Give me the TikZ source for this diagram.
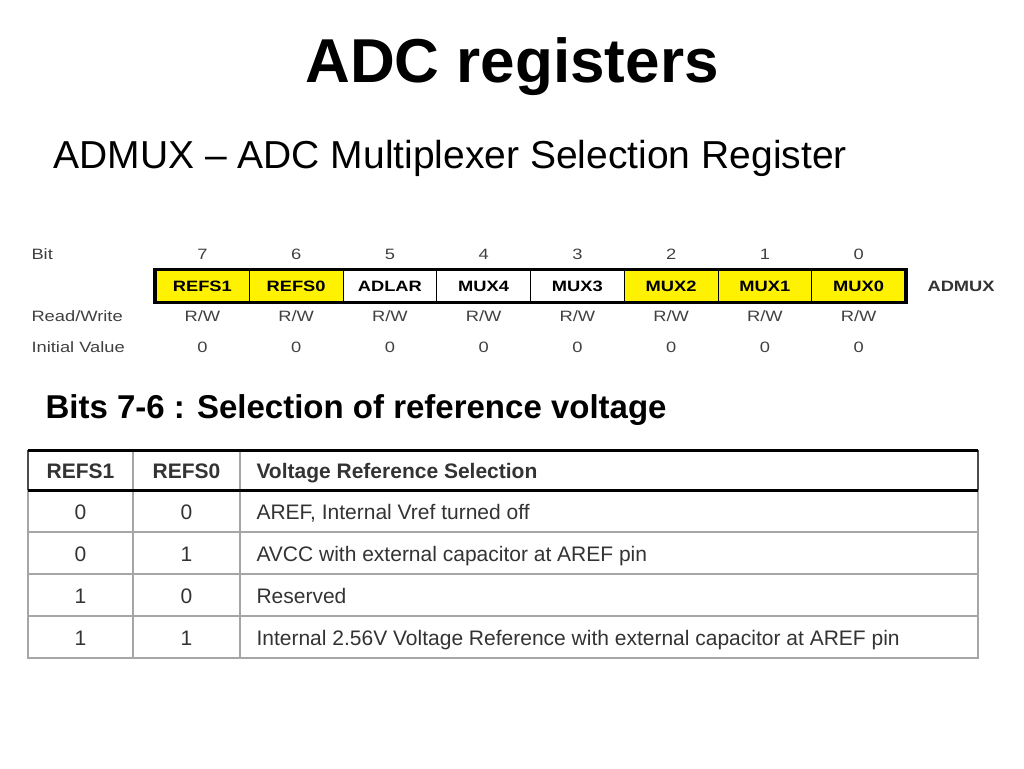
\documentclass[tikz,border=0pt]{standalone}
\usepackage{fontspec}
\usepackage{graphicx}
\setmainfont{Liberation Sans}
\newcommand{\widetxt}[1]{\scalebox{1.22}[1]{#1}}
\begin{document}
\begin{tikzpicture}[x=1pt,y=-1pt,
  small/.style={font=\fontsize{15}{15}\selectfont,text=black!75},
  cell/.style={minimum width=93.75pt,minimum height=32pt,inner sep=0pt,font=\fontsize{15}{15}\selectfont\bfseries,anchor=west},
  tt/.style={font=\fontsize{21}{21}\selectfont,text=black!80,anchor=base},
  grid/.style={draw=black!35,line width=1.2pt}]
\useasboundingbox (0,0) rectangle (1024,768);
\node (title) at (512,67) {\fontsize{62}{62}\selectfont\bfseries ADC registers};
\node[anchor=west] (sub) at (50,158) {\fontsize{39}{39}\selectfont ADMUX -- ADC Multiplexer Selection Register};
% register
\node[small,anchor=west] (bitl) at (28,254) {\widetxt{Bit}};
\node[small,anchor=west] (rwl) at (28,316) {\widetxt{Read/Write}};
\node[small,anchor=west] (ivl) at (28,347) {\widetxt{Initial Value}};
\foreach \i/\n/\c in {0/REFS1/yellow,1/REFS0/yellow,2/ADLAR/white,3/MUX4/white,4/MUX3/white,5/MUX2/yellow,6/MUX1/yellow,7/MUX0/yellow}{
  \pgfmathtruncatemacro\b{7-\i}
  \node[cell,fill=\c,draw=black,line width=1pt] (c\i) at (155+93.75*\i,286) {\widetxt{\n}};
  \node[small] (b\i) at (c\i.center |- 0,254) {\widetxt{\b}};
  \node[small] (rw\i) at (c\i.center |- 0,316) {\widetxt{R/W}};
  \node[small] (iv\i) at (c\i.center |- 0,347) {\widetxt{0}};
}
\draw[line width=3.5pt] (c0.north west) rectangle (c7.south east);
\node[anchor=west,font=\fontsize{15}{15}\selectfont\bfseries,text=black!80] (adm) at (924,286) {\widetxt{ADMUX}};
\node[anchor=west] (bits) at (42,410) {\fontsize{33}{33}\selectfont\bfseries Bits 7-6 : Selection of reference voltage};
% table
\foreach \y in {532,574,616} \draw[grid] (28,\y) -- (978,\y);
\draw[grid] (28,490) -- (28,658) -- (978,658) -- (978,490);
\draw[grid] (133,450) -- (133,658); \draw[grid] (240,450) -- (240,658);
\draw[line width=2pt,black!70] (28,450) -- (28,490);
\draw[line width=2pt,black!70] (978,450) -- (978,490);
\draw[line width=3pt] (28,450) -- (978,450);
\draw[line width=3pt] (28,490) -- (978,490);
\node[tt,font=\fontsize{21}{21}\selectfont\bfseries] (h1) at (80.5,478) {REFS1};
\node[tt,font=\fontsize{21}{21}\selectfont\bfseries] (h2) at (186.5,478) {REFS0};
\node[tt,font=\fontsize{21}{21}\selectfont\bfseries,anchor=base west] (h3) at (253,478) {Voltage Reference Selection};
\foreach \y/\a/\b/\t in {519/0/0/{AREF, Internal Vref turned off},561/0/1/{AVCC with external capacitor at AREF pin},603/1/0/{Reserved},645/1/1/{Internal 2.56V Voltage Reference with external capacitor at AREF pin}}{
  \node[tt] at (80.5,\y) {\a};
  \node[tt] at (186.5,\y) {\b};
  \node[tt,anchor=base west] at (253,\y) {\t};
}
\end{tikzpicture}
\end{document}
